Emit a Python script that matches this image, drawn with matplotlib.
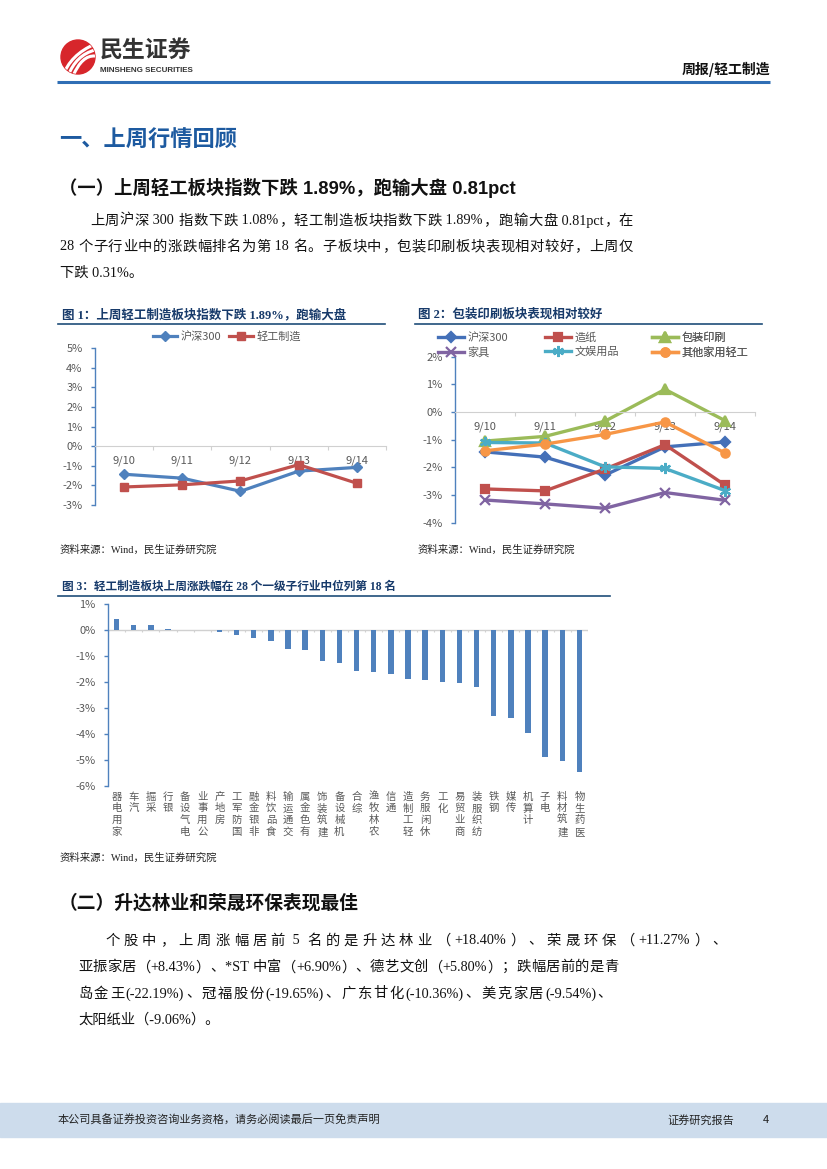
import re
import numpy as np
import matplotlib
matplotlib.use('Agg')
import matplotlib.pyplot as plt
from matplotlib.patches import Rectangle, Circle, PathPatch
from matplotlib.path import Path

plt.rcParams['font.family'] = ['Noto Sans CJK SC', 'DejaVu Sans']
plt.rcParams['axes.unicode_minus'] = False

# ---------------- data ----------------
dates = ['9/10', '9/11', '9/12', '9/13', '9/14']

# Figure 1
hs300 = [-1.43, -1.63, -2.30, -1.27, -1.08]
light_mfg = [-2.08, -1.97, -1.77, -0.94, -1.89]
fig1_labels = ['沪深300', '轻工制造']

# Figure 2
sub_labels = ['沪深300', '造纸', '包装印刷', '家具', '文娱用品', '其他家用轻工']
hs300_b = [-1.44, -1.63, -2.28, -1.26, -1.08]
paper = [-2.78, -2.85, -2.06, -1.18, -2.64]
packaging = [-1.05, -0.88, -0.33, 0.82, -0.31]
furniture = [-3.18, -3.32, -3.48, -2.91, -3.19]
stationery = [-1.10, -1.12, -1.98, -2.04, -2.84]
other_home = [-1.40, -1.16, -0.81, -0.36, -1.48]

# Figure 3
industries = ['家用电器', '汽车', '采掘', '银行', '电气设备', '公用事业', '房地产',
              '国防军工', '非银金融', '食品饮料', '交通运输', '有色金属', '建筑装饰',
              '机械设备', '综合', '农林牧渔', '通信', '轻工制造', '休闲服务', '化工',
              '商业贸易', '纺织服装', '钢铁', '传媒', '计算机', '电子', '建筑材料', '医药生物']
ind_change = [0.41, 0.17, 0.16, 0.01, -0.01, -0.02, -0.10, -0.22, -0.31, -0.44,
              -0.76, -0.80, -1.20, -1.27, -1.58, -1.63, -1.70, -1.89, -1.95, -2.00,
              -2.05, -2.22, -3.30, -3.40, -3.98, -4.89, -5.03, -5.45]

# ---------------- page setup ----------------
W, H = 827, 1169
fig = plt.figure(figsize=(W / 100, H / 100), dpi=100)
bg = fig.add_axes([0, 0, 1, 1])
bg.set_xlim(0, W)
bg.set_ylim(H, 0)
bg.axis('off')
renderer = fig.canvas.get_renderer()

SERIF = ['Liberation Serif', 'Noto Sans CJK SC']
CJK = ['Noto Sans CJK SC', 'DejaVu Sans']
GRAY = '#595959'
NAVY = '#173a6a'
BLUE_LINE = '#1f4e79'


def text(x, y, s, size, family=CJK, weight='normal', color='#111111', ha='left'):
    return bg.text(x, y, s, fontsize=size, family=family, fontweight=weight,
                   color=color, ha=ha, va='center')


def justify(x0, x1, y, s, size, family=SERIF, color='#111111'):
    tokens = re.findall(r'[\x00-\x7f]+|.', s)
    arts = [bg.text(0, y, t, fontsize=size, family=family, color=color,
                    ha='left', va='center') for t in tokens]
    widths = [a.get_window_extent(renderer).width for a in arts]
    gap = (x1 - x0 - sum(widths)) / max(len(tokens) - 1, 1)
    xx = x0
    for a, w in zip(arts, widths):
        a.set_x(xx)
        xx += w + gap


def add_ax(x0, y0, x1, y1):
    ax = fig.add_axes([x0 / W, 1 - y1 / H, (x1 - x0) / W, (y1 - y0) / H])
    ax.set_facecolor('none')
    return ax


def style_y(ax, ymin, ymax, spine_color='#4F81BD'):
    ax.set_ylim(ymin, ymax)
    ticks = list(range(ymin, ymax + 1))
    ax.set_yticks(ticks)
    ax.set_yticklabels([f'{v}%' for v in ticks])
    for s in ['top', 'right']:
        ax.spines[s].set_visible(False)
    ax.spines['left'].set_color(spine_color)
    ax.spines['left'].set_linewidth(1.0)
    ax.tick_params(axis='y', direction='out', length=3, width=1, color=spine_color,
                   labelcolor=GRAY, labelsize=8, pad=6)


def style_x_zero(ax, labels):
    n = len(labels)
    ax.set_xlim(-0.5, n - 0.5)
    ax.spines['bottom'].set_position(('data', 0))
    ax.spines['bottom'].set_color('#d0d0d0')
    ax.set_xticks(np.arange(-0.5, n, 1))
    ax.set_xticklabels([])
    ax.set_xticks(np.arange(n), minor=True)
    ax.set_xticklabels(labels, minor=True)
    ax.tick_params(axis='x', which='major', direction='out', length=3, color='#d0d0d0')
    ax.tick_params(axis='x', which='minor', length=0, pad=7, labelcolor=GRAY, labelsize=8)
    ax.set_axisbelow(True)


# ---------------- header ----------------
logo = Circle((78, 57), 17, color='#d7262b')
bg.add_patch(logo)
for k in range(3):
    p = Path([(63 + k * 5, 76), (70 + k * 6, 55), (95, 44 + k * 6)],
             [Path.MOVETO, Path.CURVE3, Path.CURVE3])
    pp = PathPatch(p, fill=False, edgecolor='white', lw=2.2)
    bg.add_patch(pp)
    pp.set_clip_path(logo)
text(100, 51, '民生证券', 16.5, weight='bold', color='#333333')
text(100, 71, 'MINSHENG SECURITIES', 5.8, family=['Liberation Sans', 'DejaVu Sans'],
     weight='bold', color='#333333')
text(770, 69, '周报/轻工制造', 10, weight='bold', color='#111111', ha='right')
bg.plot([57, 770], [82, 82], color='#2f6eb5', lw=2.2, solid_capstyle='butt')

# ---------------- section 1 ----------------
text(59, 140, '一、上周行情回顾', 16, weight='bold', color='#1d5aa0')
text(59, 188, '（一）上周轻工板块指数下跌 1.89%，跑输大盘 0.81pct', 13.2, weight='bold',
     family=['Liberation Sans', 'Noto Sans CJK SC'], color='#111111')
justify(90, 633, 221, '上周沪深 300 指数下跌 1.08%，轻工制造板块指数下跌 1.89%，跑输大盘 0.81pct，在', 10.3)
justify(60, 633, 247, '28 个子行业中的涨跌幅排名为第 18 名。子板块中，包装印刷板块表现相对较好，上周仅', 10.3)
text(60, 273, '下跌 0.31%。', 10.3, family=SERIF)

# ---------------- figure 1 ----------------
text(62, 315, '图 1：上周轻工制造板块指数下跌 1.89%，跑输大盘', 9, family=SERIF,
     weight='bold', color=NAVY)
bg.plot([58, 385], [324, 324], color=BLUE_LINE, lw=1.2)
ax1 = add_ax(95, 348.3, 386, 505)
x = np.arange(len(dates))
ax1.plot(x, hs300, color='#4F81BD', lw=2.3, marker='D', ms=5.5, label=fig1_labels[0])
ax1.plot(x, light_mfg, color='#C0504D', lw=2.3, marker='s', ms=6, label=fig1_labels[1])
style_y(ax1, -3, 5)
style_x_zero(ax1, dates)
ax1.legend(loc='center', bbox_to_anchor=(227 / W, 1 - 336.7 / H), bbox_transform=fig.transFigure,
           ncol=2, frameon=False, fontsize=8, handlelength=2.2, handletextpad=0.3,
           columnspacing=0.7, labelcolor=GRAY, borderpad=0, borderaxespad=0)
text(60, 550, '资料来源：Wind，民生证券研究院', 7.5, family=SERIF, color='#222222')

# ---------------- figure 2 ----------------
text(418, 315, '图 2：包装印刷板块表现相对较好', 9, family=SERIF, weight='bold', color=NAVY)
bg.plot([415, 762], [324, 324], color=BLUE_LINE, lw=1.2)
ax2 = add_ax(455, 356.7, 755, 522.7)
series2 = [hs300_b, paper, packaging, furniture, stationery, other_home]
colors2 = ['#4470B8', '#C0504D', '#9BBB59', '#8064A2', '#4BACC6', '#F79646']
markers2 = ['D', 's', '^', 'x', (6, 2, 0), 'o']
msizes2 = [5.5, 6, 6.5, 7, 8, 6]
handles2 = []
for ser, c, m, ms, lab in zip(series2, colors2, markers2, msizes2, sub_labels):
    h, = ax2.plot(x, ser, color=c, lw=2.4, marker=m, ms=ms, mew=1.6, label=lab)
    handles2.append(h)
style_y(ax2, -4, 2)
style_x_zero(ax2, dates)
col_x = [438, 545, 652]
for j in range(3):
    lg = ax2.legend(handles=[handles2[j], handles2[j + 3]], loc='upper left',
                    bbox_to_anchor=(col_x[j] / W, 1 - 332.5 / H), bbox_transform=fig.transFigure,
                    frameon=False, fontsize=8, handlelength=2.3, handletextpad=0.35,
                    labelspacing=0.35, labelcolor=GRAY, borderpad=0, borderaxespad=0)
    ax2.add_artist(lg)
text(418, 550, '资料来源：Wind，民生证券研究院', 7.5, family=SERIF, color='#222222')

# ---------------- figure 3 ----------------
text(62, 587, '图 3：轻工制造板块上周涨跌幅在 28 个一级子行业中位列第 18 名', 8.4, family=SERIF,
     weight='bold', color=NAVY)
bg.plot([58, 610], [596, 596], color=BLUE_LINE, lw=1.2)
ax3 = add_ax(108, 603.5, 588, 786)
x3 = np.arange(len(industries))
ax3.bar(x3, ind_change, width=0.32, color='#4F81BD', zorder=3)
ax3.set_xlim(-0.5, len(industries) - 0.5)
style_y(ax3, -6, 1)
ax3.spines['bottom'].set_visible(False)
ax3.axhline(0, color='#d0d0d0', lw=1, zorder=2)
ax3.vlines(np.arange(len(industries) + 1) - 0.5, -0.1, 0, color='#d0d0d0', lw=0.8, zorder=2)
ax3.set_xticks(x3)
ax3.set_xticklabels(['\n'.join(reversed(s)) for s in industries], fontsize=7.5,
                    color=GRAY, linespacing=1.22, va='top')
ax3.tick_params(axis='x', length=0, pad=4)
text(60, 858, '资料来源：Wind，民生证券研究院', 7.5, family=SERIF, color='#222222')

# ---------------- section 2 ----------------
text(59, 903, '（二）升达林业和荣晟环保表现最佳', 13.5, weight='bold', color='#111111')
justify(105, 727, 941, '个股中，上周涨幅居前 5 名的是升达林业（+18.40%）、荣晟环保（+11.27%）、', 10.3)
justify(78, 618, 967.5, '亚振家居（+8.43%）、*ST 中富（+6.90%）、德艺文创（+5.80%）；跌幅居前的是青', 10.3)
justify(78, 612, 994, '岛金王(-22.19%)、冠福股份(-19.65%)、广东甘化(-10.36%)、美克家居(-9.54%)、', 10.3)
text(78, 1020, '太阳纸业（-9.06%）。', 10.3, family=SERIF)

# ---------------- footer ----------------
bg.add_patch(Rectangle((0, 1103), W, 34, color='#cddcec', zorder=0))
text(58, 1120, '本公司具备证券投资咨询业务资格，请务必阅读最后一页免责声明', 8, color='#222222')
text(667, 1120, '证券研究报告', 8, color='#222222')
text(763, 1120, '4', 8, color='#222222')

fig.savefig('out.png', dpi=100)
